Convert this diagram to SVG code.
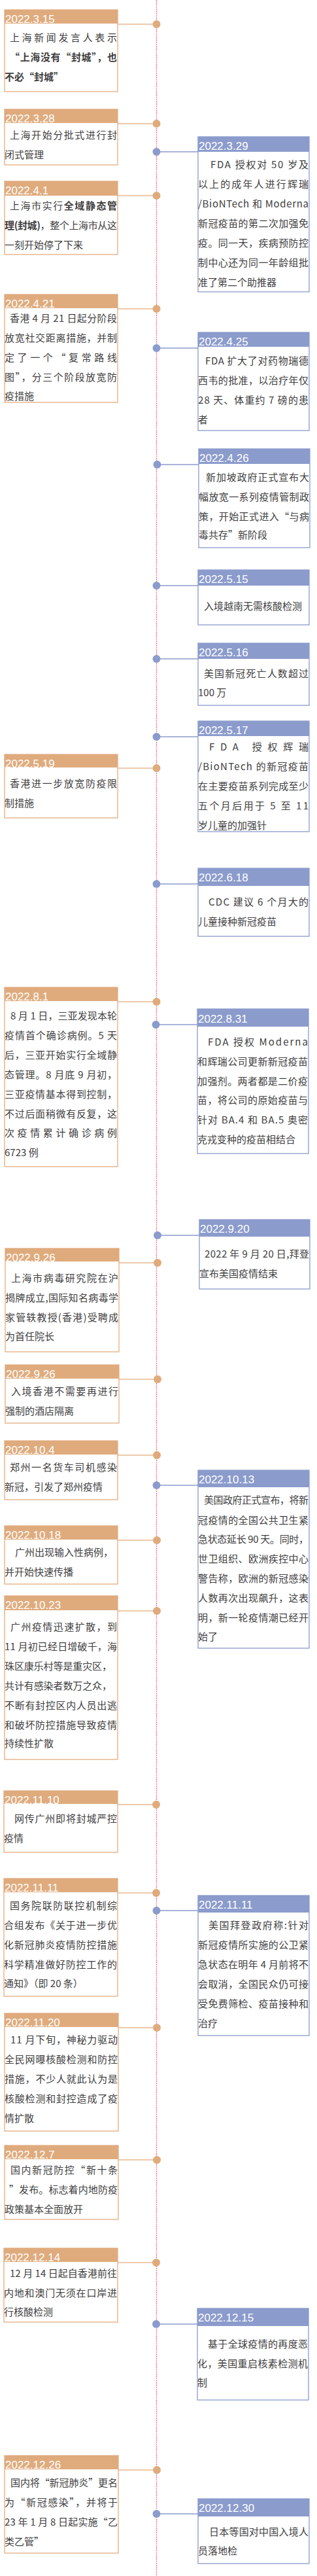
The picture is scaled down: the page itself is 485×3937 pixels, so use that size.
<svg xmlns="http://www.w3.org/2000/svg" width="485" height="3937" viewBox="0 0 485 3937">
<style>
.tl{stroke:#e8566e;stroke-width:1.4;stroke-dasharray:1.4 1.4;fill:none}
.hl{fill:#dfab7d}
.hr{fill:#8b9bcc}
.bl{fill:#fff;stroke:#e5ac80;stroke-width:1.3}
.br{fill:#fff;stroke:#8b9bcc;stroke-width:1.3}
.d{font-family:"Liberation Sans",Arial,sans-serif;font-size:17px;fill:#fff}
.t{font-family:"Noto Sans CJK SC","Noto Sans CJK TC",sans-serif;font-size:15px;fill:#404040}
.b{font-weight:bold}
.cl{stroke:#e8b991;stroke-width:1.3}
.cr{stroke:#8b9bcc;stroke-width:1.3}
.dl{fill:#dfab7d}
.dr{fill:#8b9bcc}
</style>
<g id="connectors">
<line class="tl" x1="239.5" y1="0" x2="239.5" y2="3937"/>
<line class="cl" x1="180" y1="37" x2="239" y2="37"/><circle class="dl" cx="239.5" cy="37" r="6"/>
<line class="cl" x1="180" y1="189" x2="239" y2="189"/><circle class="dl" cx="239.5" cy="189" r="6"/>
<line class="cr" x1="239" y1="232" x2="303" y2="232"/><circle class="dr" cx="239.5" cy="232" r="6"/>
<line class="cl" x1="180" y1="299" x2="239" y2="299"/><circle class="dl" cx="239.5" cy="299" r="6"/>
<line class="cl" x1="180" y1="472" x2="239" y2="472"/><circle class="dl" cx="239.5" cy="472" r="6"/>
<line class="cr" x1="239" y1="532" x2="303" y2="532"/><circle class="dr" cx="239.5" cy="532" r="6"/>
<line class="cr" x1="241" y1="710" x2="304" y2="710"/><circle class="dr" cx="240.5" cy="710" r="6"/>
<line class="cr" x1="239" y1="895" x2="303" y2="895"/><circle class="dr" cx="239.5" cy="895" r="6"/>
<line class="cr" x1="239" y1="1007" x2="303" y2="1007"/><circle class="dr" cx="239.5" cy="1007" r="6"/>
<line class="cr" x1="239" y1="1126" x2="303" y2="1126"/><circle class="dr" cx="239.5" cy="1126" r="6"/>
<line class="cl" x1="180" y1="1174" x2="239" y2="1174"/><circle class="dl" cx="239.5" cy="1174" r="6"/>
<line class="cr" x1="239" y1="1351" x2="303" y2="1351"/><circle class="dr" cx="239.5" cy="1351" r="6"/>
<line class="cl" x1="180" y1="1531" x2="239" y2="1531"/><circle class="dl" cx="239.5" cy="1531" r="6"/>
<line class="cr" x1="238" y1="1566" x2="302" y2="1566"/><circle class="dr" cx="238.5" cy="1566" r="6"/>
<line class="cr" x1="241" y1="1888" x2="305" y2="1888"/><circle class="dr" cx="241" cy="1888" r="6"/>
<line class="cl" x1="182" y1="1930" x2="241" y2="1930"/><circle class="dl" cx="241" cy="1930" r="6"/>
<line class="cl" x1="182" y1="2108" x2="241" y2="2108"/><circle class="dl" cx="241" cy="2108" r="6"/>
<line class="cl" x1="180" y1="2224" x2="240" y2="2224"/><circle class="dl" cx="240" cy="2224" r="6"/>
<line class="cr" x1="239" y1="2270" x2="303" y2="2270"/><circle class="dr" cx="239.5" cy="2270" r="6"/>
<line class="cl" x1="180" y1="2354" x2="239" y2="2354"/><circle class="dl" cx="240" cy="2354" r="6"/>
<line class="cl" x1="180" y1="2462" x2="239" y2="2462"/><circle class="dl" cx="240" cy="2462" r="6"/>
<line class="cl" x1="180" y1="2758" x2="239" y2="2758"/><circle class="dl" cx="239" cy="2758" r="6"/>
<line class="cl" x1="180" y1="2893" x2="239" y2="2893"/><circle class="dl" cx="239" cy="2893" r="6"/>
<line class="cr" x1="239" y1="2920" x2="303" y2="2920"/><circle class="dr" cx="239.5" cy="2920" r="6"/>
<line class="cl" x1="181" y1="3099" x2="240" y2="3099"/><circle class="dl" cx="240" cy="3099" r="6"/>
<line class="cl" x1="181" y1="3301" x2="240" y2="3301"/><circle class="dl" cx="240" cy="3301" r="6"/>
<line class="cl" x1="180" y1="3458" x2="239" y2="3458"/><circle class="dl" cx="239" cy="3458" r="6"/>
<line class="cr" x1="239" y1="3552" x2="302" y2="3552"/><circle class="dr" cx="239" cy="3552" r="6"/>
<line class="cl" x1="181" y1="3775" x2="240" y2="3775"/><circle class="dl" cx="240" cy="3775" r="6"/>
<line class="cr" x1="239" y1="3842" x2="303" y2="3842"/><circle class="dr" cx="239.5" cy="3842" r="6"/>
</g>

<g id="n1"><rect class="bl" x="7" y="15" width="173" height="125"/><rect class="hl" x="7" y="15" width="173" height="21"/><text class="d" x="8" y="35">2022.3.15</text>
<text class="t" x="15" y="63" textLength="164" lengthAdjust="spacing">上海新闻发言人表示</text>
<text class="t b" x="15" y="93" textLength="164" lengthAdjust="spacing">“上海没有“封城”，也</text>
<text class="t b" x="7" y="123">不必“封城”</text></g>

<g id="n2"><rect class="bl" x="7" y="167" width="173" height="85"/><rect class="hl" x="7" y="167" width="173" height="21"/><text class="d" x="8" y="187">2022.3.28</text>
<text class="t" x="15" y="212" textLength="164" lengthAdjust="spacing">上海开始分批式进行封</text>
<text class="t" x="7" y="242">闭式管理</text></g>

<g id="n3"><rect class="br" x="303" y="209" width="170" height="237"/><rect class="hr" x="303" y="209" width="170" height="23"/><text class="d" x="304" y="229">2022.3.29</text>
<text class="t" x="322" y="257" textLength="150" lengthAdjust="spacing">FDA 授权对 50 岁及</text>
<text class="t" x="303" y="287" textLength="169" lengthAdjust="spacing">以上的成年人进行辉瑞</text>
<text class="t" x="303" y="317" textLength="169" lengthAdjust="spacing">/BioNTech 和 Moderna</text>
<text class="t" x="303" y="347" textLength="169" lengthAdjust="spacing">新冠疫苗的第二次加强免</text>
<text class="t" x="303" y="377" textLength="169" lengthAdjust="spacing">疫。同一天，疾病预防控</text>
<text class="t" x="303" y="407" textLength="169" lengthAdjust="spacing">制中心还为同一年龄组批</text>
<text class="t" x="303" y="437">准了第二个助推器</text></g>

<g id="n4"><rect class="bl" x="7" y="277" width="173" height="112"/><rect class="hl" x="7" y="277" width="173" height="22"/><text class="d" x="8" y="297">2022.4.1</text>
<text class="t" x="15" y="320" textLength="164" lengthAdjust="spacing">上海市实行<tspan class="b">全域静态管</tspan></text>
<text class="t" x="7" y="350" textLength="172" lengthAdjust="spacing"><tspan class="b">理(封城)</tspan>，整个上海市从这</text>
<text class="t" x="7" y="380">一刻开始停了下来</text></g>

<g id="n5"><rect class="bl" x="7" y="450" width="173" height="165"/><rect class="hl" x="7" y="450" width="173" height="21"/><text class="d" x="8" y="470">2022.4.21</text>
<text class="t" x="15" y="492" textLength="164" lengthAdjust="spacing">香港 4 月 21 日起分阶段</text>
<text class="t" x="7" y="522" textLength="172" lengthAdjust="spacing">放宽社交距离措施，并制</text>
<text class="t" x="7" y="552" textLength="172" lengthAdjust="spacing">定了一个“复常路线</text>
<text class="t" x="7" y="582" textLength="172" lengthAdjust="spacing">图”，分三个阶段放宽防</text>
<text class="t" x="7" y="611">疫措施</text></g>

<g id="n6"><rect class="br" x="303" y="508" width="170" height="150"/><rect class="hr" x="303" y="508" width="170" height="22"/><text class="d" x="304" y="528">2022.4.25</text>
<text class="t" x="314" y="557" textLength="158" lengthAdjust="spacing">FDA 扩大了对药物瑞德</text>
<text class="t" x="303" y="587" textLength="169" lengthAdjust="spacing">西韦的批准，以治疗年仅</text>
<text class="t" x="303" y="617" textLength="169" lengthAdjust="spacing">28 天、体重约 7 磅的患</text>
<text class="t" x="303" y="647">者</text></g>

<g id="n7"><rect class="br" x="304" y="686" width="170" height="151"/><rect class="hr" x="304" y="686" width="170" height="23"/><text class="d" x="305" y="706">2022.4.26</text>
<text class="t" x="315" y="735" textLength="158" lengthAdjust="spacing">新加坡政府正式宣布大</text>
<text class="t" x="304" y="765" textLength="169" lengthAdjust="spacing">幅放宽一系列疫情管制政</text>
<text class="t" x="304" y="795" textLength="169" lengthAdjust="spacing">策，开始正式进入“与病</text>
<text class="t" x="304" y="823">毒共存”新阶段</text></g>

<g id="n8"><rect class="br" x="303" y="871" width="170" height="84"/><rect class="hr" x="303" y="871" width="170" height="24"/><text class="d" x="304" y="891">2022.5.15</text>
<text class="t" x="312" y="932">入境越南无需核酸检测</text></g>

<g id="n9"><rect class="br" x="303" y="983" width="170" height="95"/><rect class="hr" x="303" y="983" width="170" height="24"/><text class="d" x="304" y="1003">2022.5.16</text>
<text class="t" x="312" y="1035" textLength="160" lengthAdjust="spacing">美国新冠死亡人数超过</text>
<text class="t" x="303" y="1064">100 万</text></g>

<g id="n10"><rect class="br" x="303" y="1102" width="170" height="169"/><rect class="hr" x="303" y="1102" width="170" height="23"/><text class="d" x="304" y="1122">2022.5.17</text>
<text class="t" x="320" y="1147" textLength="152" lengthAdjust="spacing">FDA 授权辉瑞</text>
<text class="t" x="303" y="1177" textLength="169" lengthAdjust="spacing">/BioNTech 的新冠疫苗</text>
<text class="t" x="303" y="1207" textLength="169" lengthAdjust="spacing">在主要疫苗系列完成至少</text>
<text class="t" x="303" y="1237" textLength="169" lengthAdjust="spacing">五个月后用于 5 至 11</text>
<text class="t" x="303" y="1267">岁儿童的加强针</text></g>

<g id="n11"><rect class="bl" x="7" y="1153" width="173" height="97"/><rect class="hl" x="7" y="1153" width="173" height="20"/><text class="d" x="8" y="1173">2022.5.19</text>
<text class="t" x="15" y="1203" textLength="164" lengthAdjust="spacing">香港进一步放宽防疫限</text>
<text class="t" x="7" y="1233">制措施</text></g>

<g id="n12"><rect class="br" x="303" y="1327" width="170" height="104"/><rect class="hr" x="303" y="1327" width="170" height="27"/><text class="d" x="304" y="1347">2022.6.18</text>
<text class="t" x="319" y="1384" textLength="153" lengthAdjust="spacing">CDC 建议 6 个月大的</text>
<text class="t" x="303" y="1414">儿童接种新冠疫苗</text></g>

<g id="n13"><rect class="bl" x="7" y="1509" width="173" height="274"/><rect class="hl" x="7" y="1509" width="173" height="21"/><text class="d" x="8" y="1529">2022.8.1</text>
<text class="t" x="16" y="1558" textLength="163" lengthAdjust="spacing">8 月 1 日，三亚发现本轮</text>
<text class="t" x="7" y="1588" textLength="172" lengthAdjust="spacing">疫情首个确诊病例。5 天</text>
<text class="t" x="7" y="1618" textLength="172" lengthAdjust="spacing">后，三亚开始实行全域静</text>
<text class="t" x="7" y="1648" textLength="172" lengthAdjust="spacing">态管理。8 月底 9 月初，</text>
<text class="t" x="7" y="1678" textLength="172" lengthAdjust="spacing">三亚疫情基本得到控制，</text>
<text class="t" x="7" y="1708" textLength="172" lengthAdjust="spacing">不过后面稍微有反复，这</text>
<text class="t" x="7" y="1737" textLength="172" lengthAdjust="spacing">次疫情累计确诊病例</text>
<text class="t" x="7" y="1767">6723 例</text></g>

<g id="n14"><rect class="br" x="302" y="1542" width="170" height="221"/><rect class="hr" x="302" y="1542" width="170" height="27"/><text class="d" x="303" y="1563">2022.8.31</text>
<text class="t" x="318" y="1598" textLength="153" lengthAdjust="spacing">FDA 授权 Moderna</text>
<text class="t" x="302" y="1628" textLength="169" lengthAdjust="spacing">和辉瑞公司更新新冠疫苗</text>
<text class="t" x="302" y="1658" textLength="169" lengthAdjust="spacing">加强剂。两者都是二价疫</text>
<text class="t" x="302" y="1687" textLength="169" lengthAdjust="spacing">苗，将公司的原始疫苗与</text>
<text class="t" x="302" y="1717" textLength="169" lengthAdjust="spacing">针对 BA.4 和 BA.5 奥密</text>
<text class="t" x="302" y="1747">克戎变种的疫苗相结合</text></g>

<g id="n15"><rect class="br" x="305" y="1864" width="169" height="106"/><rect class="hr" x="305" y="1864" width="169" height="26"/><text class="d" x="306" y="1884">2022.9.20</text>
<text class="t" x="313" y="1922" textLength="160" lengthAdjust="spacing">2022 年 9 月 20 日,拜登</text>
<text class="t" x="305" y="1952">宣布美国疫情结束</text></g>

<g id="n16"><rect class="bl" x="8" y="1908" width="174" height="158"/><rect class="hl" x="8" y="1908" width="174" height="20"/><text class="d" x="9" y="1928">2022.9.26</text>
<text class="t" x="17" y="1959" textLength="164" lengthAdjust="spacing">上海市病毒研究院在沪</text>
<text class="t" x="8" y="1989" textLength="173" lengthAdjust="spacing">揭牌成立,国际知名病毒学</text>
<text class="t" x="8" y="2019" textLength="173" lengthAdjust="spacing">家管轶教授(香港)受聘成</text>
<text class="t" x="8" y="2048">为首任院长</text></g>

<g id="n17"><rect class="bl" x="8" y="2086" width="174" height="89"/><rect class="hl" x="8" y="2086" width="174" height="21"/><text class="d" x="9" y="2106">2022.9.26</text>
<text class="t" x="17" y="2132" textLength="164" lengthAdjust="spacing">入境香港不需要再进行</text>
<text class="t" x="8" y="2162">强制的酒店隔离</text></g>

<g id="n18"><rect class="bl" x="7" y="2202" width="173" height="90"/><rect class="hl" x="7" y="2202" width="173" height="21"/><text class="d" x="8" y="2222">2022.10.4</text>
<text class="t" x="15" y="2248" textLength="164" lengthAdjust="spacing">郑州一名货车司机感染</text>
<text class="t" x="7" y="2278">新冠，引发了郑州疫情</text></g>

<g id="n19"><rect class="br" x="303" y="2247" width="170" height="272"/><rect class="hr" x="303" y="2247" width="170" height="26"/><text class="d" x="304" y="2267">2022.10.13</text>
<text class="t" x="312" y="2298" textLength="160" lengthAdjust="spacing">美国政府正式宣布，将新</text>
<text class="t" x="303" y="2329" textLength="169" lengthAdjust="spacing">冠疫情的全国公共卫生紧</text>
<text class="t" x="303" y="2358" textLength="169" lengthAdjust="spacing">急状态延长 90 天。同时，</text>
<text class="t" x="303" y="2388" textLength="169" lengthAdjust="spacing">世卫组织、欧洲疾控中心</text>
<text class="t" x="303" y="2418" textLength="169" lengthAdjust="spacing">警告称，欧洲的新冠感染</text>
<text class="t" x="303" y="2448" textLength="169" lengthAdjust="spacing">人数再次出现飙升，这表</text>
<text class="t" x="303" y="2478" textLength="169" lengthAdjust="spacing">明，新一轮疫情潮已经开</text>
<text class="t" x="303" y="2507">始了</text></g>

<g id="n20"><rect class="bl" x="7" y="2332" width="173" height="89"/><rect class="hl" x="7" y="2332" width="173" height="21"/><text class="d" x="8" y="2352">2022.10.18</text>
<text class="t" x="23" y="2378" textLength="150" lengthAdjust="spacing">广州出现输入性病例，</text>
<text class="t" x="7" y="2408">并开始快速传播</text></g>

<g id="n21"><rect class="bl" x="7" y="2439" width="173" height="250"/><rect class="hl" x="7" y="2439" width="173" height="22"/><text class="d" x="8" y="2459">2022.10.23</text>
<text class="t" x="16" y="2492" textLength="163" lengthAdjust="spacing">广州疫情迅速扩散，到</text>
<text class="t" x="7" y="2522" textLength="172" lengthAdjust="spacing">11 月初已经日增破千，海</text>
<text class="t" x="7" y="2552" textLength="164" lengthAdjust="spacing">珠区康乐村等是重灾区，</text>
<text class="t" x="7" y="2582" textLength="164" lengthAdjust="spacing">共计有感染者数万之众，</text>
<text class="t" x="7" y="2612" textLength="172" lengthAdjust="spacing">不断有封控区内人员出逃</text>
<text class="t" x="7" y="2642" textLength="172" lengthAdjust="spacing">和破坏防控措施导致疫情</text>
<text class="t" x="7" y="2670">持续性扩散</text></g>

<g id="n22"><rect class="bl" x="6" y="2737" width="174" height="94"/><rect class="hl" x="6" y="2737" width="174" height="20"/><text class="d" x="7" y="2757">2022.11.10</text>
<text class="t" x="22" y="2785" textLength="157" lengthAdjust="spacing">网传广州即将封城严控</text>
<text class="t" x="6" y="2815">疫情</text></g>

<g id="n23"><rect class="bl" x="6" y="2871" width="174" height="180"/><rect class="hl" x="6" y="2871" width="174" height="21"/><text class="d" x="7" y="2891">2022.11.11</text>
<text class="t" x="15" y="2918" textLength="164" lengthAdjust="spacing">国务院联防联控机制综</text>
<text class="t" x="6" y="2948" textLength="173" lengthAdjust="spacing">合组发布《关于进一步优</text>
<text class="t" x="6" y="2978" textLength="173" lengthAdjust="spacing">化新冠肺炎疫情防控措施</text>
<text class="t" x="6" y="3008" textLength="173" lengthAdjust="spacing">科学精准做好防控工作的</text>
<text class="t" x="6" y="3037">通知》（即 20 条）</text></g>

<g id="n24"><rect class="br" x="303" y="2897" width="170" height="214"/><rect class="hr" x="303" y="2897" width="170" height="26"/><text class="d" x="304" y="2917">2022.11.11</text>
<text class="t" x="319" y="2948" textLength="153" lengthAdjust="spacing">美国拜登政府称:针对</text>
<text class="t" x="303" y="2978" textLength="169" lengthAdjust="spacing">新冠疫情所实施的公卫紧</text>
<text class="t" x="303" y="3008" textLength="169" lengthAdjust="spacing">急状态在明年 4 月前将不</text>
<text class="t" x="303" y="3038" textLength="169" lengthAdjust="spacing">会取消，全国民众仍可接</text>
<text class="t" x="303" y="3068" textLength="169" lengthAdjust="spacing">受免费筛检、疫苗接种和</text>
<text class="t" x="303" y="3098">治疗</text></g>

<g id="n25"><rect class="bl" x="7" y="3077" width="174" height="180"/><rect class="hl" x="7" y="3077" width="174" height="21"/><text class="d" x="8" y="3097">2022.11.20</text>
<text class="t" x="16" y="3123" textLength="164" lengthAdjust="spacing">11 月下旬，神秘力驱动</text>
<text class="t" x="7" y="3153" textLength="173" lengthAdjust="spacing">全民网曝核酸检测和防控</text>
<text class="t" x="7" y="3183" textLength="173" lengthAdjust="spacing">措施，不少人就此认为是</text>
<text class="t" x="7" y="3213" textLength="173" lengthAdjust="spacing">核酸检测和封控造成了疫</text>
<text class="t" x="7" y="3243">情扩散</text></g>

<g id="n26"><rect class="bl" x="7" y="3279" width="174" height="113"/><rect class="hl" x="7" y="3279" width="174" height="21"/><text class="d" x="8" y="3299">2022.12.7</text>
<text class="t" x="16" y="3322" textLength="164" lengthAdjust="spacing">国内新冠防控“新十条</text>
<text class="t" x="14" y="3352" textLength="166" lengthAdjust="spacing">”发布。标志着内地防疫</text>
<text class="t" x="7" y="3382">政策基本全面放开</text></g>

<g id="n27"><rect class="bl" x="6" y="3436" width="174" height="113"/><rect class="hl" x="6" y="3436" width="174" height="21"/><text class="d" x="7" y="3456">2022.12.14</text>
<text class="t" x="15" y="3480" textLength="164" lengthAdjust="spacing">12 月 14 日起自香港前往</text>
<text class="t" x="6" y="3510" textLength="173" lengthAdjust="spacing">内地和澳门无须在口岸进</text>
<text class="t" x="6" y="3539">行核酸检测</text></g>

<g id="n28"><rect class="br" x="302" y="3528" width="170" height="140"/><rect class="hr" x="302" y="3528" width="170" height="27"/><text class="d" x="303" y="3548">2022.12.15</text>
<text class="t" x="318" y="3588" textLength="153" lengthAdjust="spacing">基于全球疫情的再度恶</text>
<text class="t" x="302" y="3618" textLength="169" lengthAdjust="spacing">化，美国重启核素检测机</text>
<text class="t" x="302" y="3647">制</text></g>

<g id="n29"><rect class="bl" x="7" y="3753" width="174" height="149"/><rect class="hl" x="7" y="3753" width="174" height="21"/><text class="d" x="8" y="3773">2022.12.26</text>
<text class="t" x="16" y="3800" textLength="164" lengthAdjust="spacing">国内将“新冠肺炎”更名</text>
<text class="t" x="7" y="3830" textLength="173" lengthAdjust="spacing">为“新冠感染”，并将于</text>
<text class="t" x="7" y="3860" textLength="173" lengthAdjust="spacing">23 年 1 月 8 日起实施“乙</text>
<text class="t" x="7" y="3890">类乙管”</text></g>

<g id="n30"><rect class="br" x="303" y="3819" width="170" height="99"/><rect class="hr" x="303" y="3819" width="170" height="27"/><text class="d" x="304" y="3839">2022.12.30</text>
<text class="t" x="320" y="3875" textLength="152" lengthAdjust="spacing">日本等国对中国入境人</text>
<text class="t" x="303" y="3904">员落地检</text></g>
</svg>
